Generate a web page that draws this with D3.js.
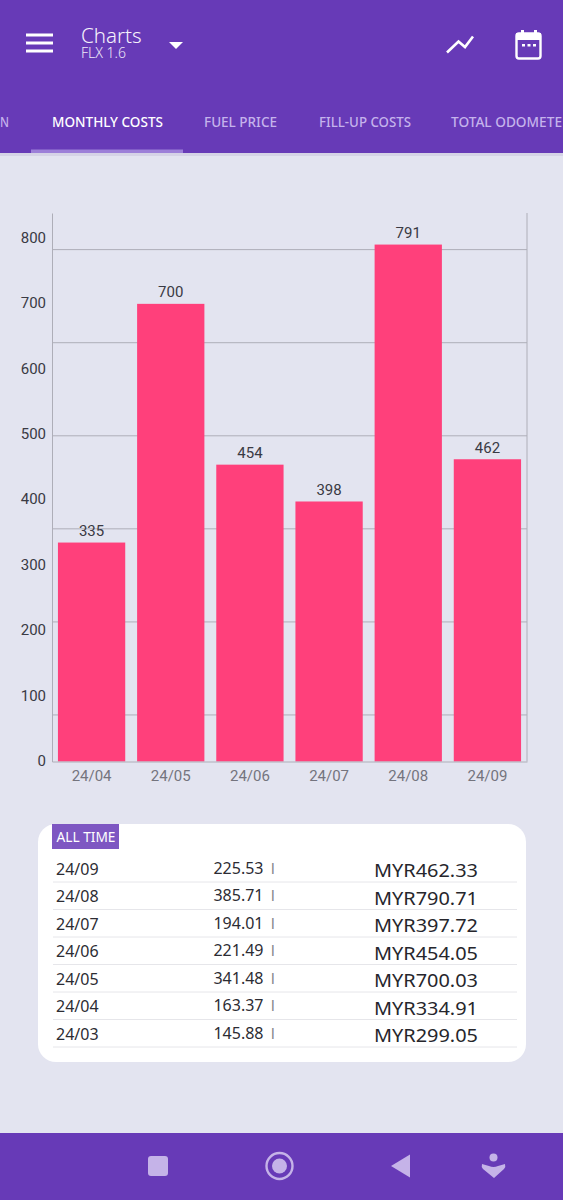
<!DOCTYPE html>
<html>
<head>
<meta charset="utf-8">
<script src="https://cdn.jsdelivr.net/npm/d3@7"></script>
<style>
html, body { margin: 0; padding: 0; background: #e3e4f0; }
svg { display: block; }
</style>
</head>
<body>
<div id="chart"></div>
<script>
// chart values
const months = ["24/04", "24/05", "24/06", "24/07", "24/08", "24/09"];
const costs = [334.91, 700.03, 454.05, 397.72, 790.71, 462.33];
const yTicks = [0, 100, 200, 300, 400, 500, 600, 700, 800];
const gridValues = [71.2, 213.5, 355.9, 498.2, 640.6, 783];

// table rows
const tableMonths = ["24/09", "24/08", "24/07", "24/06", "24/05", "24/04", "24/03"];
const tableLitres = ["225.53", "385.71", "194.01", "221.49", "341.48", "163.37", "145.88"];
const tableCosts = ["MYR462.33", "MYR790.71", "MYR397.72", "MYR454.05", "MYR700.03", "MYR334.91", "MYR299.05"];

// tab strip is scrolled, first and last are cut by the screen edge in the app
const tabs = ["N", "MONTHLY COSTS", "FUEL PRICE", "FILL-UP COSTS", "TOTAL ODOMETE"];
const tabX = [0, 52, 204, 319, 451];
const tabWidths = [9, 111, 73, 92, 111];

const width = 563;
const height = 1200;
const margins = { top: 213, bottom: 438.5, left: 52, right: 36 };
const uiFont = "'Noto Sans', sans-serif";
const purple = "#673ab7";

const svg = d3.select("#chart")
    .append("svg")
    .attr("width", width)
    .attr("height", height)

svg.append("rect").attr("width", width).attr("height", height).attr("fill", "#e3e4f0")

// top bar
svg.append("rect").attr("width", width).attr("height", 153).attr("fill", purple)
svg.append("rect").attr("y", 153).attr("width", width).attr("height", 3).attr("fill", "#d5d3e6")

svg.selectAll("rect.burger")
    .data([35, 43, 51])
    .join("rect")
    .attr("class", "burger")
    .attr("x", 26).attr("y", d => d - 1.5)
    .attr("width", 27).attr("height", 3)
    .attr("fill", "white")

svg.append("text").attr("x", 81).attr("y", 43)
    .text("Charts").style("font", `300 20.5px ${uiFont}`).style("fill", "#f6f2fc")
svg.append("text").attr("x", 81).attr("y", 58)
    .text("FLX 1.6").style("font", `300 14px ${uiFont}`).style("fill", "#efe9f9")
svg.append("path").attr("d", "M169 42 L183 42 L176 49 Z").attr("fill", "white")

// trend icon
svg.append("path")
    .attr("d", "M447 52.5 L458.5 41.5 L465 47 L473 36.5")
    .attr("fill", "none").attr("stroke", "white").attr("stroke-width", 2.6)

// calendar icon
svg.append("rect").attr("x", 516.5).attr("y", 33.5).attr("width", 24).attr("height", 25).attr("rx", 2.5)
    .attr("fill", "none").attr("stroke", "white").attr("stroke-width", 2.4)
svg.append("rect").attr("x", 516).attr("y", 33).attr("width", 25).attr("height", 7).attr("fill", "white")
svg.selectAll("rect.peg")
    .data([521, 534])
    .join("rect")
    .attr("class", "peg")
    .attr("x", d => d).attr("y", 30).attr("width", 3).attr("height", 4).attr("fill", "white")
svg.selectAll("rect.dot")
    .data([522, 527.5, 533])
    .join("rect")
    .attr("class", "dot")
    .attr("x", d => d).attr("y", 44).attr("width", 3).attr("height", 2.5).attr("fill", "white")

// tabs
svg.selectAll("text.tab")
    .data(tabs)
    .join("text")
    .attr("class", "tab")
    .attr("x", (d, i) => tabX[i])
    .attr("y", 127)
    .text(d => d)
    .style("font", `500 14px ${uiFont}`)
    .style("fill", (d, i) => i == 1 ? "#ffffff" : "#c5b3ec")
    .attr("textLength", (d, i) => tabWidths[i])
    .attr("lengthAdjust", "spacingAndGlyphs")
svg.append("rect").attr("x", 31).attr("y", 149.5).attr("width", 152).attr("height", 3.5).attr("fill", "#9c7fd8")

// scales
const xScale = d3.scaleBand()
    .domain(months)
    .range([margins.left, width - margins.right])
    .paddingInner(.15)
    .paddingOuter(.075)

const yScale = d3.scaleLinear()
    .domain([0, 839])
    .range([height - margins.bottom, margins.top])

// grid
svg.selectAll("line.grid")
    .data(gridValues)
    .join("line")
    .attr("class", "grid")
    .attr("x1", margins.left).attr("x2", width - margins.right)
    .attr("y1", d => yScale(d)).attr("y2", d => yScale(d))
    .attr("stroke", "#aeaeb8").attr("stroke-width", 1)

svg.append("line")
    .attr("x1", width - margins.right).attr("x2", width - margins.right)
    .attr("y1", margins.top).attr("y2", height - margins.bottom)
    .attr("stroke", "#aeaeb8")

// bars
svg.selectAll("rect.bar")
    .data(costs)
    .join("rect")
    .attr("class", "bar")
    .attr("x", (d, i) => xScale(months[i]))
    .attr("y", d => yScale(d))
    .attr("width", xScale.bandwidth())
    .attr("height", d => yScale(0) - yScale(d))
    .attr("fill", "#ff407b")

svg.selectAll("text.count")
    .data(costs)
    .join("text")
    .attr("class", "count")
    .attr("x", (d, i) => xScale(months[i]) + xScale.bandwidth() / 2)
    .attr("y", d => yScale(d) - 6.5)
    .attr("text-anchor", "middle")
    .text(d => d3.format(".0f")(d))
    .style("font", "15px Roboto, sans-serif")
    .style("fill", "#3a3a44")

// axes
const yAxis = svg.append("g")
    .attr("transform", `translate(${margins.left},0)`)
    .call(d3.axisLeft(yScale).tickValues(yTicks).tickSize(0).tickPadding(6))
yAxis.select(".domain").attr("stroke", "#aeaeb8")
yAxis.selectAll("text")
    .attr("y", -0.8)
    .style("font", "15px Roboto, sans-serif")
    .style("fill", "#3a3a44")

const xAxis = svg.append("g")
    .attr("transform", `translate(0,${yScale(0)})`)
    .call(d3.axisBottom(xScale).tickSize(0).tickPadding(8.5))
xAxis.select(".domain").attr("stroke", "#aeaeb8")
xAxis.selectAll("text")
    .style("font", "15px Roboto, sans-serif")
    .style("fill", "#74747e")

// card with the table
svg.append("rect")
    .attr("x", 38).attr("y", 824)
    .attr("width", 488).attr("height", 238)
    .attr("rx", 18)
    .attr("fill", "white")
svg.append("rect")
    .attr("x", 52).attr("y", 824)
    .attr("width", 67).attr("height", 25)
    .attr("fill", "#7e57c2")
svg.append("text").attr("x", 56.5).attr("y", 841.5)
    .text("ALL TIME")
    .style("font", `14px ${uiFont}`).style("fill", "white")
    .attr("textLength", 59).attr("lengthAdjust", "spacingAndGlyphs")

const rowScale = d3.scalePoint()
    .domain(tableMonths)
    .range([882, 1047])

svg.selectAll("line.row")
    .data(tableMonths)
    .join("line")
    .attr("class", "row")
    .attr("x1", 53).attr("x2", 517)
    .attr("y1", d => rowScale(d)).attr("y2", d => rowScale(d))
    .attr("stroke", "#e6e6ea")

svg.selectAll("text.month")
    .data(tableMonths)
    .join("text")
    .attr("class", "month")
    .attr("x", 56)
    .attr("y", d => rowScale(d) - 7.5)
    .text(d => d)
    .style("font", `16px ${uiFont}`)
    .style("fill", "#2c2c33")

svg.selectAll("text.litres")
    .data(tableLitres)
    .join("text")
    .attr("class", "litres")
    .attr("x", 263.5)
    .attr("y", (d, i) => rowScale(tableMonths[i]) - 8.5)
    .attr("text-anchor", "end")
    .text(d => d)
    .style("font", `16px ${uiFont}`)
    .style("fill", "#2c2c33")

svg.selectAll("text.unit")
    .data(tableLitres)
    .join("text")
    .attr("class", "unit")
    .attr("x", 271)
    .attr("y", (d, i) => rowScale(tableMonths[i]) - 8.5)
    .text("l")
    .style("font", `15px Roboto, sans-serif`)
    .style("fill", "#85858d")

svg.selectAll("text.cost")
    .data(tableCosts)
    .join("text")
    .attr("class", "cost")
    .attr("x", 374)
    .attr("y", (d, i) => rowScale(tableMonths[i]) - 5)
    .text(d => d)
    .style("font", `18.5px ${uiFont}`)
    .style("fill", "#26262c")
    .attr("textLength", 104).attr("lengthAdjust", "spacingAndGlyphs")

// bottom nav
svg.append("rect").attr("y", 1133).attr("width", width).attr("height", 67).attr("fill", purple)
const navColor = "#c5b3e8";
svg.append("rect").attr("x", 148).attr("y", 1156).attr("width", 20).attr("height", 20).attr("rx", 3).attr("fill", navColor)
svg.append("circle").attr("cx", 279.5).attr("cy", 1166).attr("r", 13).attr("fill", "none").attr("stroke", navColor).attr("stroke-width", 2.4)
svg.append("circle").attr("cx", 279.5).attr("cy", 1166).attr("r", 7.5).attr("fill", navColor)
svg.append("path").attr("d", "M391 1166 L410 1154.5 L410 1177.5 Z").attr("fill", navColor)
svg.append("circle").attr("cx", 493.5).attr("cy", 1157.5).attr("r", 4).attr("fill", navColor)
svg.append("path").attr("d", "M482 1164 L489 1166 Q493.5 1168 498 1166 L505 1164 Q506 1167 504 1169 L494 1178 L483 1169 Q481 1167 482 1164 Z").attr("fill", navColor)
</script>
</body>
</html>
